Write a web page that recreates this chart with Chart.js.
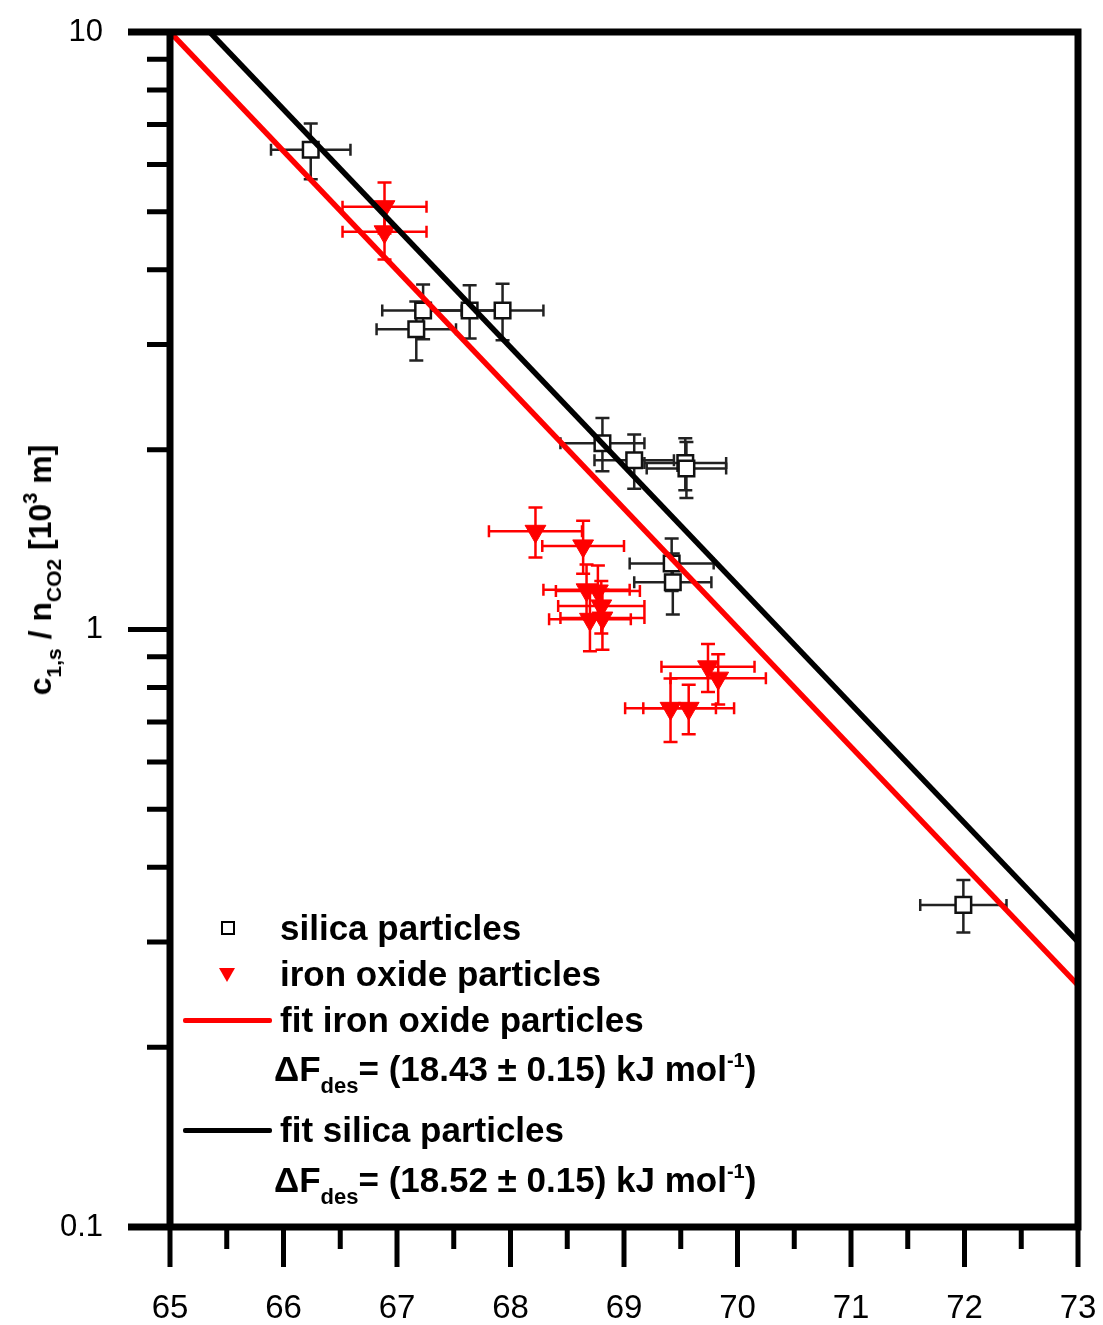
<!DOCTYPE html>
<html>
<head>
<meta charset="utf-8">
<script src="https://cdn.jsdelivr.net/npm/chart.js@4.4.0/dist/chart.umd.min.js"></script>
<style>
  html, body { margin: 0; padding: 0; background: #fff; }
  #wrap { position: relative; width: 1103px; height: 1325px; overflow: hidden; }
  #c { position: absolute; left: 0; top: 0; }
  .lg { position: absolute; font-family: "Liberation Sans", Arial, sans-serif; font-weight: bold;
        font-size: 35px; line-height: 35px; color: #000; white-space: nowrap; }
  .lg sub { font-size: 22px; vertical-align: -12px; line-height: 0; }
  .lg sup { font-size: 20px; vertical-align: 14px; line-height: 0; }
  .mk-sq { position: absolute; width: 10px; height: 10px; border: 2px solid #000; background: #fff; }
  .mk-tri { position: absolute; width: 0; height: 0; border-left: 8px solid transparent;
            border-right: 8px solid transparent; border-top: 14px solid #ff0000; }
  .mk-line { position: absolute; height: 5px; border-radius: 2px; }
  #ytitle { position: absolute; left: 40px; top: 570px; transform: translate(-50%, -50%) rotate(-90deg);
            font-family: "Liberation Sans", Arial, sans-serif; font-weight: bold; font-size: 32px;
            line-height: 32px; white-space: nowrap; color: #000; }
  #ytitle sub { font-size: 21px; vertical-align: -10px; line-height: 0; }
  #ytitle sup { font-size: 20px; vertical-align: 14px; line-height: 0; }
</style>
</head>
<body>
<div id="wrap">
  <canvas id="c" width="1103" height="1325"></canvas>
  <div id="ytitle">c<sub>1,s</sub> / n<sub>CO2</sub> [10<sup>3</sup> m]</div>

  <div class="mk-sq" style="left:221px; top:921px;"></div>
  <div class="lg" style="left:280px; top:910px;">silica particles</div>

  <div class="mk-tri" style="left:219px; top:968px;"></div>
  <div class="lg" style="left:280px; top:956px;">iron oxide particles</div>

  <div class="mk-line" style="left:183px; top:1018px; width:89px; background:#ff0000;"></div>
  <div class="lg" style="left:280px; top:1002px;">fit iron oxide particles</div>
  <div class="lg" style="left:274px; top:1051px;">ΔF<sub>des</sub>= (18.43 ± 0.15) kJ mol<sup>-1</sup>)</div>

  <div class="mk-line" style="left:183px; top:1128px; width:89px; background:#000;"></div>
  <div class="lg" style="left:280px; top:1112px;">fit silica particles</div>
  <div class="lg" style="left:274px; top:1162px;">ΔF<sub>des</sub>= (18.52 ± 0.15) kJ mol<sup>-1</sup>)</div>
</div>

<script>
// ---------------- data ----------------
const xTickValues = [65, 66, 67, 68, 69, 70, 71, 72, 73];
const xMinorTickValues = [65.5, 66.5, 67.5, 68.5, 69.5, 70.5, 71.5, 72.5];
const yTickValues = [0.1, 1, 10];
const yTickLabels = ['0.1', '1', '10'];
const yMinorTickValues = [0.2, 0.3, 0.4, 0.5, 0.6, 0.7, 0.8, 0.9, 2, 3, 4, 5, 6, 7, 8, 9];

const silicaX    = [66.24, 67.23, 67.17, 67.64, 67.93, 68.81, 69.09, 69.54, 69.55, 69.42, 69.43, 71.99];
const silicaY    = [6.35, 3.42, 3.18, 3.42, 3.42, 2.05, 1.92, 1.90, 1.86, 1.29, 1.20, 0.346];
const silicaXErr = [0.35, 0.36, 0.35, 0.35, 0.36, 0.37, 0.35, 0.36, 0.35, 0.37, 0.34, 0.38];
const silicaYErr = [0.68, 0.36, 0.36, 0.35, 0.37, 0.21, 0.20, 0.19, 0.20, 0.13, 0.14, 0.035];

const ironX    = [66.89, 66.89, 68.22, 68.64, 68.67, 68.77, 68.80, 68.70, 68.81, 69.74, 69.83, 69.41, 69.57];
const ironY    = [5.10, 4.63, 1.46, 1.38, 1.165, 1.16, 1.095, 1.04, 1.045, 0.866, 0.829, 0.738, 0.738];
const ironXErr = [0.37, 0.37, 0.41, 0.36, 0.38, 0.37, 0.38, 0.36, 0.37, 0.41, 0.42, 0.40, 0.40];
const ironYErr = [0.50, 0.47, 0.14, 0.14, 0.12, 0.12, 0.11, 0.12, 0.12, 0.08, 0.08, 0.09, 0.07];

const fitIronX = [65, 73];
const fitIronY = [10, 0.254];
const fitSilicaX = [65.35, 73];
const fitSilicaY = [10, 0.30];

// ---------------- build ----------------
const pts = (xs, ys, xe, ye) => xs.map((x, i) => ({ x: x, y: ys[i], xErr: xe ? xe[i] : 0, yErr: ye ? ye[i] : 0 }));

const errorBars = {
  id: 'errorBars',
  beforeDatasetsDraw(chart) {
    const ctx = chart.ctx, xs = chart.scales.x, ys = chart.scales.y;
    chart.data.datasets.forEach((ds) => {
      if (!ds.errColor) return;
      ctx.save();
      ctx.strokeStyle = ds.errColor;
      ctx.lineWidth = 2.5;
      ds.data.forEach(d => {
        const px = xs.getPixelForValue(d.x), py = ys.getPixelForValue(d.y);
        const x0 = xs.getPixelForValue(d.x - d.xErr), x1 = xs.getPixelForValue(d.x + d.xErr);
        const y0 = ys.getPixelForValue(d.y + d.yErr), y1 = ys.getPixelForValue(d.y - d.yErr);
        ctx.beginPath();
        ctx.moveTo(x0, py); ctx.lineTo(x1, py);
        ctx.moveTo(x0, py - 6); ctx.lineTo(x0, py + 6);
        ctx.moveTo(x1, py - 6); ctx.lineTo(x1, py + 6);
        ctx.moveTo(px, y0); ctx.lineTo(px, y1);
        ctx.moveTo(px - 7, y0); ctx.lineTo(px + 7, y0);
        ctx.moveTo(px - 7, y1); ctx.lineTo(px + 7, y1);
        ctx.stroke();
      });
      ctx.restore();
    });
  }
};

const frame = {
  id: 'frame',
  afterDatasetsDraw(chart) {
    const ctx = chart.ctx, a = chart.chartArea, xs = chart.scales.x, ys = chart.scales.y;
    ctx.save();
    ctx.strokeStyle = '#000';
    ctx.lineCap = 'butt';
    ctx.lineWidth = 5;
    ctx.beginPath();
    yTickValues.forEach(v => { const y = ys.getPixelForValue(v); ctx.moveTo(a.left - 42, y); ctx.lineTo(a.left, y); });
    yMinorTickValues.forEach(v => { const y = ys.getPixelForValue(v); ctx.moveTo(a.left - 23, y); ctx.lineTo(a.left, y); });
    xTickValues.forEach(v => { const x = xs.getPixelForValue(v); ctx.moveTo(x, a.bottom); ctx.lineTo(x, a.bottom + 40); });
    xMinorTickValues.forEach(v => { const x = xs.getPixelForValue(v); ctx.moveTo(x, a.bottom); ctx.lineTo(x, a.bottom + 22); });
    ctx.stroke();
    ctx.lineWidth = 7;
    ctx.beginPath();
    ctx.moveTo(a.left, a.top - 3.5); ctx.lineTo(a.left, a.bottom + 3.5);
    ctx.moveTo(a.right, a.top - 3.5); ctx.lineTo(a.right, a.bottom + 3.5);
    ctx.moveTo(a.left - 42, a.top); ctx.lineTo(a.right + 3.5, a.top);
    ctx.moveTo(a.left - 42, a.bottom); ctx.lineTo(a.right + 3.5, a.bottom);
    ctx.stroke();
    ctx.restore();
  }
};

const zeroPad = s => { s.paddingTop = 0; s.paddingBottom = 0; s.paddingLeft = 0; s.paddingRight = 0; };

new Chart(document.getElementById('c'), {
  type: 'scatter',
  data: {
    datasets: [
      { label: 'fit silica particles', data: pts(fitSilicaX, fitSilicaY), showLine: true, borderColor: '#000',
        borderWidth: 5.5, pointRadius: 0, fill: false },
      { label: 'fit iron oxide particles', data: pts(fitIronX, fitIronY), showLine: true, borderColor: '#ff0000',
        borderWidth: 5.5, pointRadius: 0, fill: false },
      { label: 'iron oxide particles', data: pts(ironX, ironY, ironXErr, ironYErr), errColor: '#ff0000',
        pointStyle: 'triangle', rotation: 180, pointRadius: 12, backgroundColor: '#ff0000', borderColor: '#ff0000',
        borderWidth: 1 },
      { label: 'silica particles', data: pts(silicaX, silicaY, silicaXErr, silicaYErr), errColor: '#222',
        pointStyle: 'rect', pointRadius: 11, backgroundColor: '#fff', borderColor: '#111', borderWidth: 2.5 }
    ]
  },
  options: {
    responsive: false,
    animation: false,
    events: [],
    layout: { padding: { left: 0, right: 25, top: 32, bottom: 0 } },
    plugins: { legend: { display: false }, tooltip: { enabled: false }, title: { display: false } },
    scales: {
      x: {
        type: 'linear', min: 65, max: 73,
        afterBuildTicks: s => { s.ticks = xTickValues.map(v => ({ value: v })); },
        afterFit: s => { s.height = 98; zeroPad(s); },
        grid: { display: false, drawTicks: false },
        border: { display: false },
        ticks: { color: '#000', padding: 62, font: { family: '"Liberation Sans", Arial, sans-serif', size: 33 },
                 maxRotation: 0, autoSkip: false, callback: v => String(v) }
      },
      y: {
        type: 'logarithmic', min: 0.1, max: 10,
        afterBuildTicks: s => { s.ticks = yTickValues.map(v => ({ value: v })); },
        afterFit: s => { s.width = 170; zeroPad(s); },
        grid: { display: false, drawTicks: false },
        border: { display: false },
        ticks: { color: '#000', padding: 67, font: { family: '"Liberation Sans", Arial, sans-serif', size: 31 },
                 autoSkip: false, callback: (v) => { const i = yTickValues.indexOf(v); return i >= 0 ? yTickLabels[i] : ''; } }
      }
    }
  },
  plugins: [errorBars, frame]
});
</script>
</body>
</html>
